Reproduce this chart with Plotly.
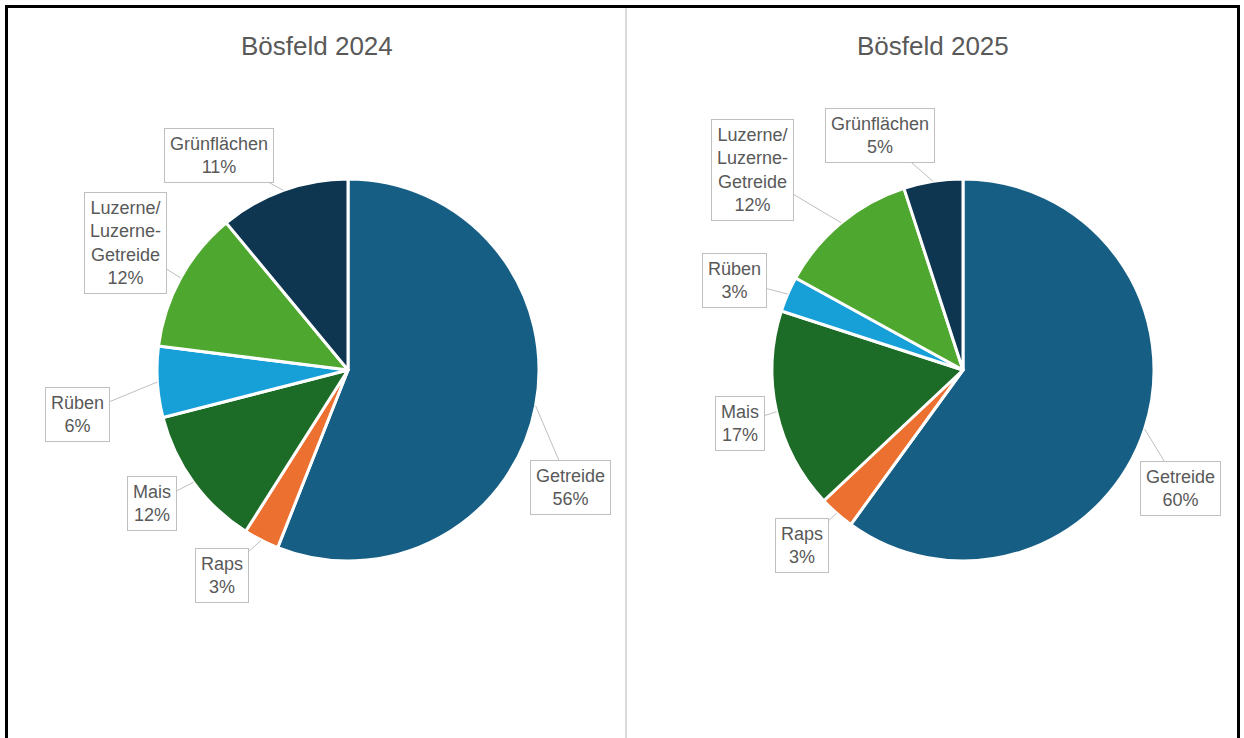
import math
import plotly.graph_objects as go

# data
crops = ["Getreide", "Raps", "Mais", "Rüben", "Luzerne/<br>Luzerne-<br>Getreide", "Grünflächen"]
share_2024 = [56, 3, 12, 6, 12, 11]
share_2025 = [60, 3, 17, 3, 12, 5]
titles = ["Bösfeld 2024", "Bösfeld 2025"]

colors = ["#165e83", "#ec7030", "#1c6b27", "#179fd8", "#4ea72e", "#0e3650"]

W, H = 1244, 738
R = 191
# pie centres in pixels, and label box offsets (px) from the slice edge
centers = [(348, 370), (963, 370)]
offsets = [
    [(35, 82), (-39, 35), (-41, 21), (-80, 33), (-55, -35), (-64, -35)],
    [(36, 59), (-35, 32), (-37, 12), (-53, -14), (-89, -53), (-53, -46)],
]
title_x = [317, 933]
FONT = "Liberation Sans, Arial"

fig = go.Figure()
annos = []
for k, vals in enumerate([share_2024, share_2025]):
    cx, cy = centers[k]
    fig.add_trace(go.Pie(
        labels=crops, values=vals, sort=False, direction="clockwise", rotation=0,
        textinfo="none", showlegend=False,
        marker=dict(colors=colors, line=dict(color="white", width=3)),
        domain=dict(x=[(cx - R) / W, (cx + R) / W], y=[(H - cy - R) / H, (H - cy + R) / H]),
    ))
    total = sum(vals)
    cum = 0
    for i, v in enumerate(vals):
        mid = (cum + v / 2) / total * 2 * math.pi
        cum += v
        px_ = cx + R * math.sin(mid)
        py_ = cy - R * math.cos(mid)
        ox, oy = offsets[k][i]
        annos.append(dict(
            x=px_ / W, y=1 - py_ / H, xref="paper", yref="paper",
            ax=ox, ay=oy, axref="pixel", ayref="pixel",
            text=f"{crops[i]}<br>{v}%", showarrow=True, arrowhead=0,
            arrowwidth=1, arrowcolor="#bfbfbf",
            bordercolor="#bfbfbf", borderwidth=1, borderpad=5, bgcolor="white",
            font=dict(family=FONT, size=18, color="#595959"),
        ))
    annos.append(dict(
        x=title_x[k] / W, y=1 - 46 / H, xref="paper", yref="paper", showarrow=False,
        xanchor="center", yanchor="middle",
        text=titles[k], font=dict(family=FONT, size=26, color="#595959"),
    ))

fig.update_layout(
    width=W, height=H, margin=dict(l=0, r=0, t=0, b=0),
    paper_bgcolor="white", plot_bgcolor="white",
    annotations=annos,
    shapes=[
        dict(type="rect", xref="paper", yref="paper", x0=6.5 / W, x1=1 - 5.5 / W,
             y0=-0.1, y1=1 - 6.5 / H, line=dict(color="black", width=3)),
        dict(type="line", xref="paper", yref="paper", x0=626 / W, x1=626 / W,
             y0=0, y1=1 - 8 / H, line=dict(color="#d9d9d9", width=2)),
    ],
)

fig.write_html("out.html", config={"displayModeBar": False},
               post_script="document.body.style.margin='0';")
